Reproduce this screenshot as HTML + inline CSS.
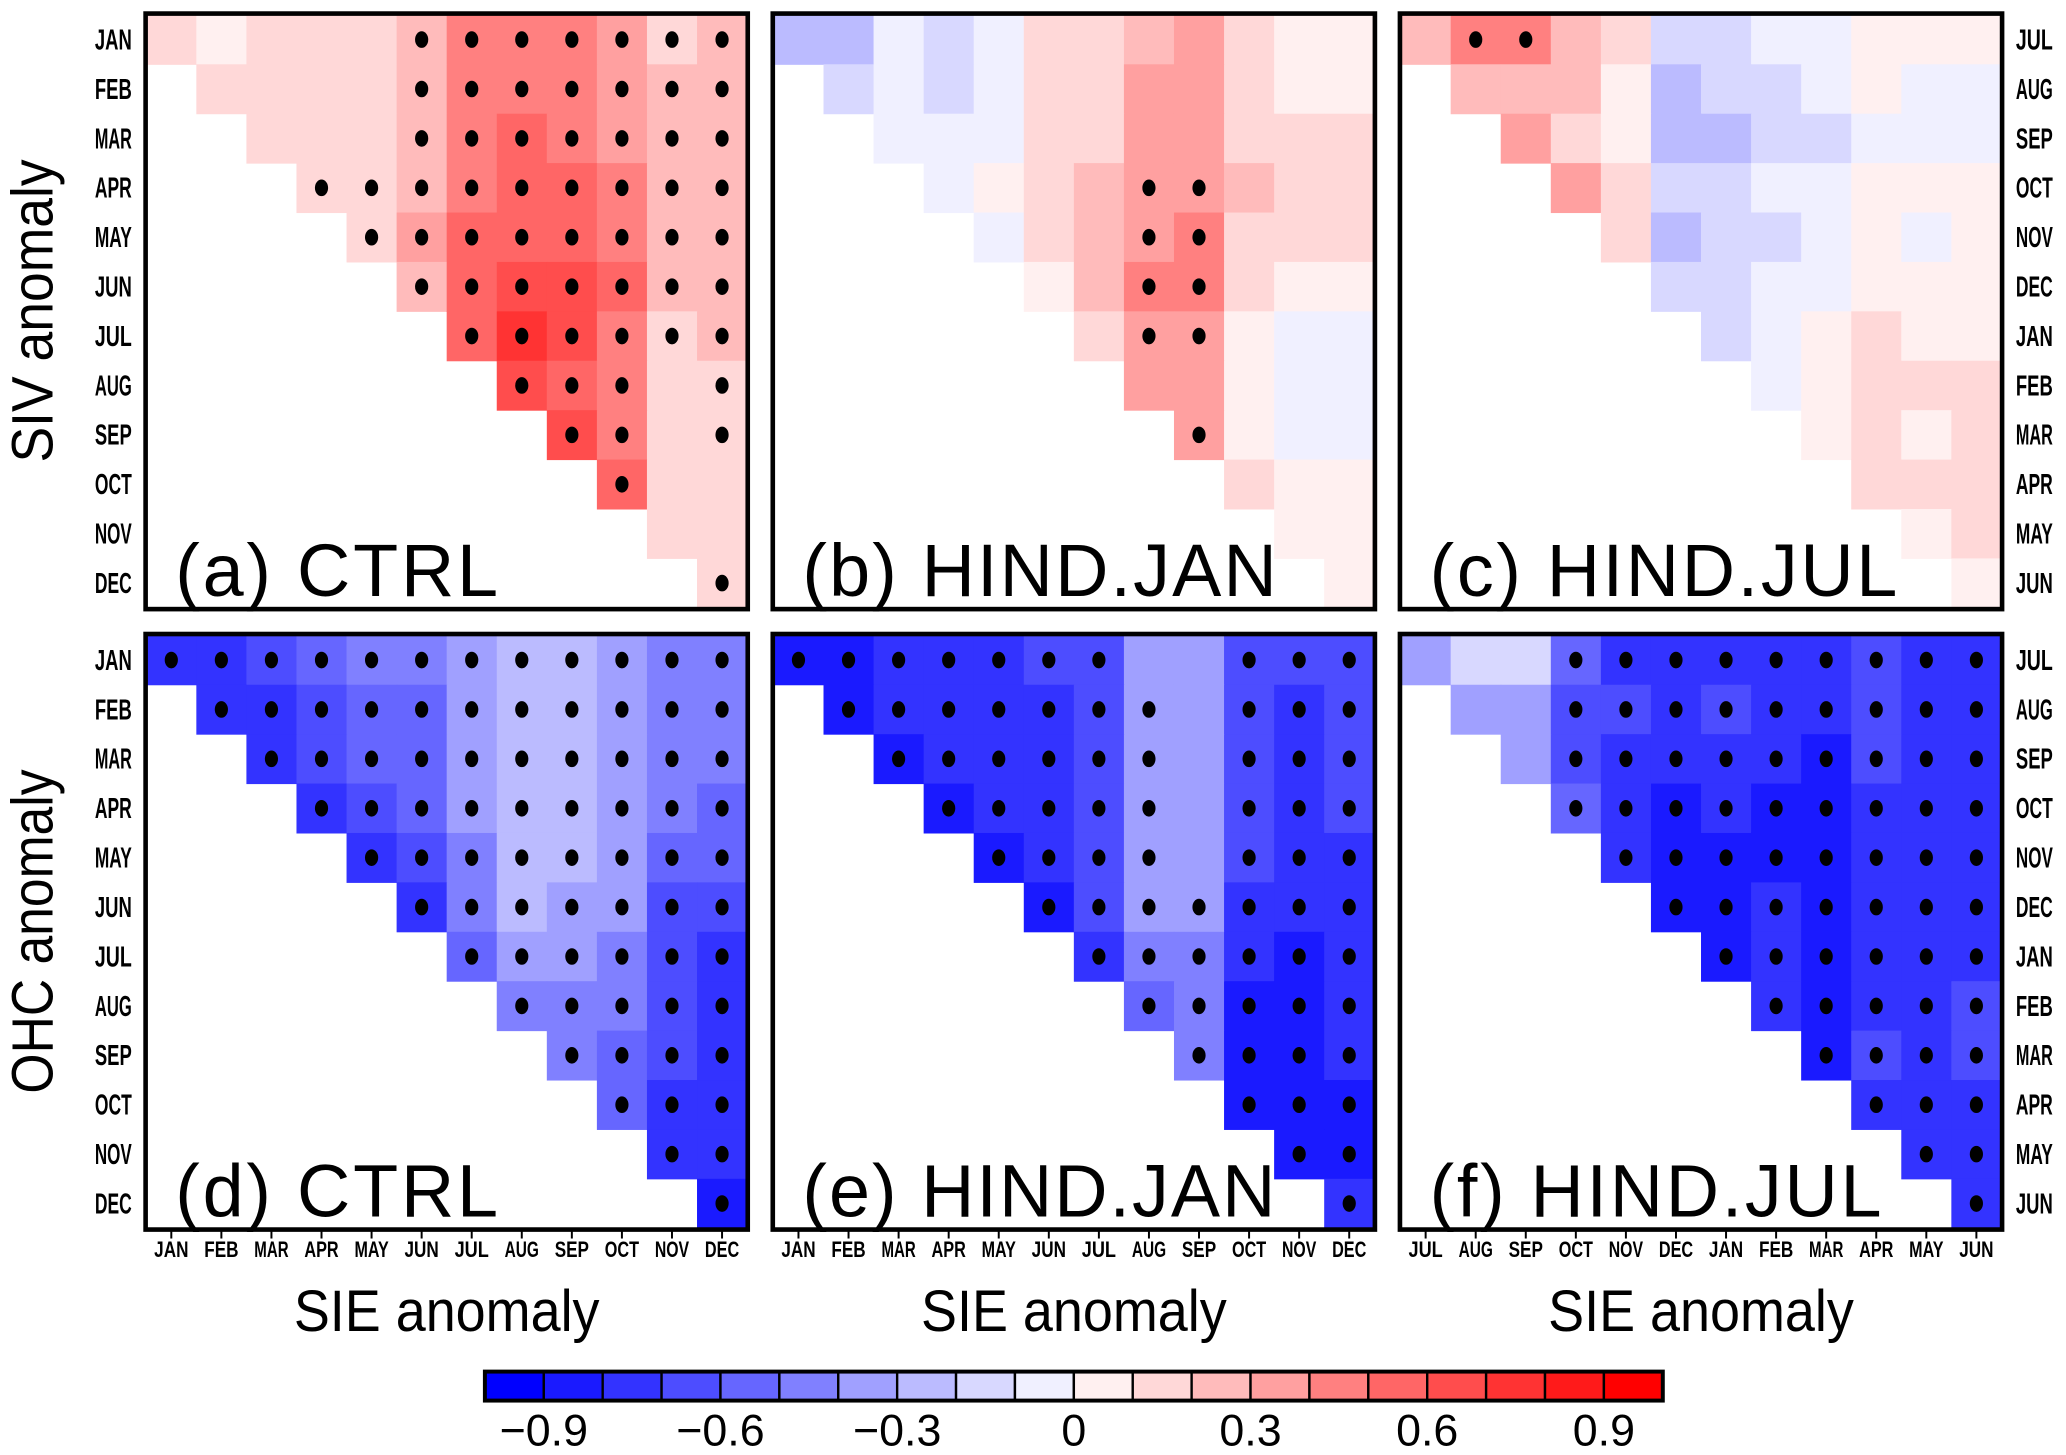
<!DOCTYPE html>
<html><head><meta charset="utf-8">
<style>
html,body{margin:0;padding:0;background:#fff;}
svg{display:block;}
.mon{font-family:"Liberation Sans Narrow","Liberation Sans",sans-serif;font-weight:bold;}
.big{font-family:"Liberation Sans",sans-serif;}
</style></head>
<body>
<svg id="fig" xmlns="http://www.w3.org/2000/svg" width="2066" height="1455" viewBox="0 0 1568 1104.3">
<g id="panels"></g>
<g id="labels"></g>
<g id="cbar"></g>
</svg>
<script>
// values in tenths (bin upper edge) of correlation; row i lists columns i..11
const monthsJan = ["JAN","FEB","MAR","APR","MAY","JUN","JUL","AUG","SEP","OCT","NOV","DEC"];
const monthsJul = ["JUL","AUG","SEP","OCT","NOV","DEC","JAN","FEB","MAR","APR","MAY","JUN"];
const cbarTicks = [-0.9,-0.6,-0.3,0,0.3,0.6,0.9];
const cbarTickLabels = ["\u22120.9","\u22120.6","\u22120.3","0","0.3","0.6","0.9"];

const sivCtrl = [
[2,1,2,2,2,3,5,5,5,4,2,3],[2,2,2,2,3,5,5,5,4,3,3],[2,2,2,3,5,6,5,4,3,3],[2,2,3,5,6,6,5,3,3],
[2,4,6,6,6,5,3,3],[3,6,7,7,6,3,3],[6,8,7,5,2,3],[7,6,5,2,2],[7,5,2,2],[6,2,2],[2,2],[2]];
const sivCtrlSig = ["000001111111","00001111111","0001111111","111111111","11111111","1111111","111111","11101","1101","100","00","1"];

const sivJan = [
[-3,-3,-1,-2,-1,2,2,3,4,2,1,1],[-2,-1,-2,-1,2,2,4,4,2,1,1],[-1,-1,-1,2,2,4,4,2,2,2],[-1,1,2,3,4,4,3,2,2],
[-1,2,3,4,5,2,2,2],[1,3,5,5,2,1,1],[2,4,4,1,-1,-1],[4,4,1,-1,-1],[4,1,-1,-1],[2,1,1],[1,1],[1]];
const sivJanSig = ["000000000000","00000000000","0000000000","000011000","00011000","0011000","011000","00000","1000","000","00","0"];

const sivJul = [
[3,5,5,3,2,-2,-2,-1,-1,1,1,1],[3,3,3,1,-3,-2,-2,-1,1,-1,-1],[4,2,1,-3,-3,-2,-2,-1,-1,-1],[4,2,-2,-2,-1,-1,1,1,1],
[2,-3,-2,-2,-1,1,-1,1],[-2,-2,-1,-1,1,1,1],[-2,-1,1,2,1,1],[-1,1,2,2,2],[1,2,1,2],[2,2,2],[1,2],[1]];
const sivJulSig = ["011000000000","00000000000","0000000000","000000000","00000000","0000000","000000","00000","0000","000","00","0"];

const ohcCtrl = [
[-8,-8,-7,-6,-5,-5,-4,-3,-3,-4,-5,-5],[-8,-8,-7,-6,-6,-4,-3,-3,-4,-5,-5],[-8,-7,-6,-6,-4,-3,-3,-4,-5,-5],
[-8,-7,-6,-4,-3,-3,-4,-5,-6],[-8,-7,-5,-3,-3,-4,-6,-6],[-8,-5,-3,-4,-4,-7,-7],[-6,-4,-4,-5,-7,-8],
[-5,-5,-5,-7,-8],[-5,-6,-7,-8],[-6,-8,-8],[-8,-8],[-9]];
const ohcCtrlSig = ["111111111111","11111111111","1111111111","111111111","11111111","1111111","111111","11111","1111","111","11","1"];

const ohcJan = [
[-9,-9,-8,-8,-8,-7,-7,-4,-4,-7,-7,-7],[-9,-8,-8,-8,-8,-7,-4,-4,-7,-8,-7],[-9,-8,-8,-8,-7,-4,-4,-7,-8,-7],
[-9,-8,-8,-7,-4,-4,-7,-8,-7],[-9,-8,-7,-4,-4,-7,-8,-8],[-9,-7,-4,-4,-8,-8,-8],[-8,-5,-5,-8,-9,-8],
[-6,-5,-9,-9,-8],[-5,-9,-9,-8],[-9,-9,-9],[-9,-9],[-8]];
const ohcJanSig = ["111111100111","11111110111","1111110111","111110111","11110111","1111111","111111","11111","1111","111","11","1"];

const ohcJul = [
[-4,-2,-2,-6,-8,-8,-8,-8,-8,-7,-8,-8],[-4,-4,-7,-7,-8,-7,-8,-8,-7,-8,-8],[-4,-7,-8,-8,-8,-8,-9,-7,-8,-8],
[-6,-8,-9,-8,-9,-9,-8,-8,-8],[-8,-9,-9,-9,-9,-8,-8,-8],[-9,-9,-8,-9,-8,-8,-8],[-9,-8,-9,-8,-8,-8],
[-8,-9,-8,-8,-7],[-9,-7,-8,-7],[-8,-8,-8],[-8,-8],[-8]];
const ohcJulSig = ["000111111111","00111111111","0111111111","111111111","11111111","1111111","111111","11111","1111","111","11","1"];

const panelData = [sivCtrl, sivJan, sivJul, ohcCtrl, ohcJan, ohcJul];
const panelSig = [sivCtrlSig, sivJanSig, sivJulSig, ohcCtrlSig, ohcJanSig, ohcJulSig];
const panelTitles = ["(a)  CTRL","(b)  HIND.JAN","(c)  HIND.JUL","(d)  CTRL","(e)  HIND.JAN","(f)  HIND.JUL"];
const titleLens = [245, 360, 355, 245, 359, 343];

const NS = "http://www.w3.org/2000/svg";
const shades = [0xF0,0xD8,0xBB,0xA0,0x80,0x66,0x4D,0x33,0x1A,0x00];
function hex(n){return n.toString(16).padStart(2,"0");}
function colorOf(v){
  const k = Math.min(10, Math.max(1, Math.ceil(Math.abs(v) - 1e-9)));
  const s = hex(shades[k-1]);
  return v > 0 ? "#ff"+s+s : "#"+s+s+"ff";
}
function mk(tag, attrs, parent){
  const e = document.createElementNS(NS, tag);
  for (const k in attrs) e.setAttribute(k, attrs[k]);
  parent.appendChild(e); return e;
}
const colX0 = [111, 587, 1063];
const rowY0 = [11.3, 482.2];
const cw = 38, ch = 37.5;
function xScale(p, j){ return colX0[p%3] + j*cw; }
function yScale(p, i){ return rowY0[Math.floor(p/3)] + i*ch; }

const panelsG = document.getElementById("panels");
const labelsG = document.getElementById("labels");
const pnames = ["panel-a-ctrl-siv","panel-b-hindjan-siv","panel-c-hindjul-siv","panel-d-ctrl-ohc","panel-e-hindjan-ohc","panel-f-hindjul-ohc"];
for (let p=0; p<6; p++){
  const g = mk("g", {}, panelsG);
  
  
  const data = panelData[p], sig = panelSig[p];
  for (let i=0;i<12;i++){
    for (let c=0;c<data[i].length;c++){
      const j = i + c;
      const r = mk("rect", {x:xScale(p,j), y:yScale(p,i), width:cw+0.4, height:ch+0.4, fill:colorOf(data[i][c])}, g);
      
      
    }
    for (let c=0;c<sig[i].length;c++){
      if (sig[i][c] === "1"){
        const j = i + c;
        const d = mk("ellipse", {cx:xScale(p,j)+cw/2, cy:yScale(p,i)+ch/2, rx:5, ry:6.3, fill:"#000"}, g);
        
        
      }
    }
  }
  const fr = mk("rect", {x:xScale(p,0)-0.5, y:yScale(p,0)-1, width:12*cw+1, height:12*ch+2, fill:"none", stroke:"#000", "stroke-width":3.5}, g);
  
  
  const t = mk("text", {x:xScale(p,0)+22, y:yScale(p,11)+ch-9, "font-size":56, class:"big", "xml:space":"preserve", textLength:titleLens[p], lengthAdjust:"spacing"}, g);
  t.textContent = panelTitles[p];
  
  
  const bottom = p >= 3;
  const months = (p%3===2) ? monthsJul : monthsJan;
  if (p%3 !== 1){
    for (let i=0;i<12;i++){
      const lx = (p%3===0) ? 86 : 1544;
      const l = mk("text", {x:lx, y:yScale(p,i)+ch/2+7.5, "font-size":22, class:"mon", "text-anchor":"middle", textLength:28, lengthAdjust:"spacingAndGlyphs"}, labelsG);
      l.textContent = months[i];
      
      
    }
  }
  if (bottom){
    for (let j=0;j<12;j++){
      const cx = xScale(p,j)+cw/2;
      const tk = mk("line", {x1:cx, x2:cx, y1:934, y2:940, stroke:"#000", "stroke-width":1.5}, labelsG);
      
      
      const l = mk("text", {x:cx, y:954, "font-size":17, class:"mon", "text-anchor":"middle", textLength:26, lengthAdjust:"spacingAndGlyphs"}, labelsG);
      l.textContent = months[j];
      
      
    }
    const xt = mk("text", {x:colX0[p%3]+6*cw, y:1010, "font-size":44, class:"big", "text-anchor":"middle", textLength:232, lengthAdjust:"spacingAndGlyphs", "xml:space":"preserve"}, labelsG);
    xt.textContent = "SIE  anomaly";
    
    
  }
}
const yt1 = mk("text", {x:0, y:0, "font-size":44, class:"big", "text-anchor":"middle", transform:"translate(40,236) rotate(-90)", textLength:230, lengthAdjust:"spacingAndGlyphs", "xml:space":"preserve"}, labelsG);
yt1.textContent = "SIV  anomaly";


const yt2 = mk("text", {x:0, y:0, "font-size":44, class:"big", "text-anchor":"middle", transform:"translate(40,707) rotate(-90)", textLength:246, lengthAdjust:"spacingAndGlyphs", "xml:space":"preserve"}, labelsG);
yt2.textContent = "OHC  anomaly";



const cb = document.getElementById("cbar");
const cbX0 = 368, cbX1 = 1262, cbY = 1041, cbH = 22;
function cbScale(v){ return cbX0 + (v + 1) / 2 * (cbX1 - cbX0); }
for (let k=-10;k<10;k++){
  const lv = k < 0 ? k : k+1;
  const r = mk("rect", {x:cbScale(k/10), y:cbY, width:cbScale((k+1)/10)-cbScale(k/10), height:cbH, fill:colorOf(lv), stroke:"#000", "stroke-width":1.8}, cb);
  
  
}
const cbf = mk("rect", {x:cbX0, y:cbY, width:cbX1-cbX0, height:cbH, fill:"none", stroke:"#000", "stroke-width":3}, cb);


for (let i=0;i<cbarTicks.length;i++){
  const l = mk("text", {x:cbScale(cbarTicks[i]), y:1097, "font-size":34, class:"big", "text-anchor":"middle"}, cb);
  l.textContent = cbarTickLabels[i];
  
  
}
</script>
</body></html>
